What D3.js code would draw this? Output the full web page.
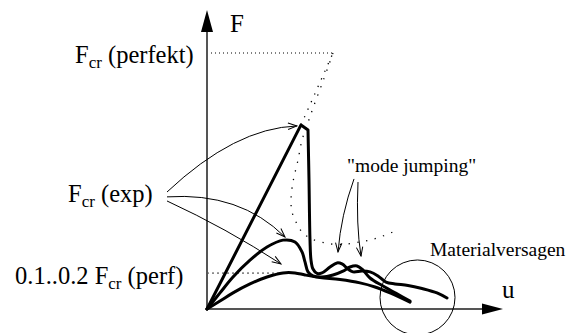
<!DOCTYPE html>
<html>
<head>
<meta charset="utf-8">
<script src="https://cdn.jsdelivr.net/npm/d3@7"></script>
<style>
  html, body { margin: 0; padding: 0; background: #fff; }
  svg { display: block; }
  text { font-family: "Liberation Serif", "Times New Roman", Times, serif; fill: #000; }
</style>
</head>
<body>
<svg id="chart" width="571" height="333"></svg>
<script>
// Load F (in % of the perfect-plate critical load) against end shortening u.

// Stiff specimen: linear up to the experimental buckling load, sudden drop, mode jumps.
const stiffPath = [
  [0, 0], [37.6, 71.9], [40.4, 69.9], [40.8, 50.4], [41.2, 27.0], [41.6, 19.1],
  [42.4, 15.6], [44.0, 13.9], [46.0, 14.1], [49.2, 16.4], [52.0, 18.0], [54.0, 17.6],
  [56.4, 15.6], [58.4, 14.5], [62.0, 14.8], [65.2, 14.5], [68.4, 12.9], [71.6, 10.5],
  [75.2, 9.8], [80.4, 9.2], [86.0, 8.0], [92.0, 6.3], [96.0, 4.3]
];

// Specimen with a rounded maximum, then a drop and a second mode jump.
const midPath = [
  [0, 0], [5.2, 6.3], [10.4, 12.5], [17.2, 19.1], [24.0, 24.2], [30.4, 26.9],
  [35.2, 26.2], [38.0, 22.3], [39.2, 18.4], [40.4, 14.5], [42.4, 12.9], [46.0, 12.5],
  [50.4, 13.3], [54.4, 14.8], [57.2, 16.4], [60.0, 16.8], [62.4, 15.2], [65.2, 12.1],
  [70.4, 9.0], [76.0, 5.9], [81.2, 3.1]
];

// Soft specimen: flat maximum at 0.1..0.2 of the perfect critical load.
const lowPath = [
  [0, 0], [5.2, 3.1], [10.4, 6.3], [17.2, 9.8], [24.0, 12.5], [30.4, 14.1],
  [35.2, 14.1], [39.2, 13.3], [45.2, 12.3], [53.2, 11.5], [61.2, 10.2],
  [67.2, 8.6], [73.2, 6.3], [81.2, 2.7]
];

// Perfect plate: elastic branch continued up to F_cr, then the post-buckling path.
const perfectElastic = [[37.6, 71.9], [50.4, 100]];
const perfectPost = [
  [50.4, 100], [46.4, 89.0], [42.4, 78.5], [39.6, 70.5], [38.0, 66.0], [36.4, 58.2],
  [34.4, 49.6], [33.6, 42.6], [34.0, 37.9], [35.6, 34.0], [38.0, 30.1], [41.2, 27.7],
  [47.2, 25.8], [53.2, 25.2], [61.2, 26.2], [68.0, 27.7], [74.4, 30.1]
];

// Reference load levels
const levelPerfect = 100;
const levelPostBuckling = 14;

// Annotation arrows: start, control, end (u, F)
const expArrows = [
  [[-16, 45.7], [11.2, 70.7], [36.0, 71.5]],
  [[-16, 43.8], [13.2, 45.7], [31.2, 28.1]],
  [[-16, 42.2], [7.6, 31.6], [29.6, 17.6]]
];
const jumpArrows = [
  [[58.8, 50.8], [53.6, 36.7], [52.4, 22.3]],
  [[60.4, 49.6], [59.6, 32.8], [61.6, 20.7]]
];

// Material failure region
const failureZone = { u: 84.2, F: 4.5, r: 15 };

// Texts
const axisLabels = { F: "F", u: "u" };
const levelTexts = [
  { pre: "", sub: "cr", post: " (perfekt)" },
  { pre: "", sub: "cr", post: " (exp)" },
  { pre: "0.1..0.2 ", sub: "cr", post: " (perf)" }
];
const noteJump = "\"mode jumping\"";
const noteFailure = "Materialversagen";

const uAxisEnd = 118.4;
const fAxisEnd = 116.8;

const svg = d3.select("#chart");
const x = d3.scaleLinear().domain([0, 100]).range([207, 457]);
const y = d3.scaleLinear().domain([0, 100]).range([309, 53]);

const line = d3.line().x(d => x(d[0])).y(d => y(d[1]));
const smooth = d3.line().x(d => x(d[0])).y(d => y(d[1])).curve(d3.curveCatmullRom.alpha(0.5));

// arrowhead
svg.append("defs").append("marker")
  .attr("id", "head")
  .attr("viewBox", "-1 -5 11 10")
  .attr("refX", 9).attr("refY", 0)
  .attr("markerWidth", 11).attr("markerHeight", 10)
  .attr("markerUnits", "userSpaceOnUse")
  .attr("orient", "auto")
  .append("path")
  .attr("d", "M0,-3.2L9,0L0,3.2")
  .attr("fill", "none").attr("stroke", "#000").attr("stroke-width", 1);

// reference levels
svg.append("line")
  .attr("x1", x(0)).attr("x2", x(perfectElastic[1][0]))
  .attr("y1", y(levelPerfect)).attr("y2", y(levelPerfect))
  .attr("stroke", "#000").attr("stroke-width", 1).attr("stroke-dasharray", "1 3");
svg.append("line")
  .attr("x1", x(0)).attr("x2", x(33.6))
  .attr("y1", y(levelPostBuckling)).attr("y2", y(levelPostBuckling))
  .attr("stroke", "#8a8a8a").attr("stroke-width", 1.6).attr("stroke-dasharray", "2 3");

// perfect plate (dotted)
svg.append("path").attr("d", line(perfectElastic))
  .attr("fill", "none").attr("stroke", "#000").attr("stroke-width", 1.3)
  .attr("stroke-dasharray", "1.3 7");
svg.append("path").attr("d", smooth(perfectPost))
  .attr("fill", "none").attr("stroke", "#000").attr("stroke-width", 1.3)
  .attr("stroke-dasharray", "1.3 7.5");

// axes
svg.append("line")
  .attr("x1", x(0)).attr("x2", x(uAxisEnd) - 20)
  .attr("y1", y(0)).attr("y2", y(0))
  .attr("stroke", "#555").attr("stroke-width", 2);
svg.append("line")
  .attr("x1", x(0)).attr("x2", x(0))
  .attr("y1", y(0)).attr("y2", y(fAxisEnd) + 22)
  .attr("stroke", "#555").attr("stroke-width", 2);
const xt = [x(uAxisEnd), y(0)];
svg.append("path")
  .attr("d", `M${xt[0]},${xt[1]}L${xt[0] - 21},${xt[1] - 5.5}L${xt[0] - 21},${xt[1] + 5.5}Z`)
  .attr("fill", "#000");
const yt = [x(0), y(fAxisEnd)];
svg.append("path")
  .attr("d", `M${yt[0]},${yt[1]}L${yt[0] - 6},${yt[1] + 22}L${yt[0] + 6},${yt[1] + 22}Z`)
  .attr("fill", "#000");

// load-deflection curves
const curveStyle = sel => sel.attr("fill", "none").attr("stroke", "#000")
  .attr("stroke-width", 3).attr("stroke-linejoin", "round").attr("stroke-linecap", "round");
svg.append("path").attr("d", line(stiffPath.slice(0, 3)) + smooth(stiffPath.slice(2)).replace(/^M[^C]*/, "")).call(curveStyle);
svg.append("path").attr("d", smooth(midPath)).call(curveStyle);
svg.append("path").attr("d", smooth(lowPath)).call(curveStyle);

// annotation arrows
const bez = a => `M${x(a[0][0])},${y(a[0][1])}Q${x(a[1][0])},${y(a[1][1])} ${x(a[2][0])},${y(a[2][1])}`;
svg.selectAll("path.arrow")
  .data(expArrows.concat(jumpArrows))
  .join("path")
  .attr("class", "arrow")
  .attr("d", bez)
  .attr("fill", "none").attr("stroke", "#000").attr("stroke-width", 1)
  .attr("marker-end", "url(#head)");

// failure zone
svg.append("circle")
  .attr("cx", x(failureZone.u)).attr("cy", y(failureZone.F))
  .attr("r", x(failureZone.u + failureZone.r) - x(failureZone.u))
  .attr("fill", "none").attr("stroke", "#000").attr("stroke-width", 1);

// texts
svg.append("text").attr("x", x(0) + 23).attr("y", y(fAxisEnd) + 22)
  .attr("font-size", 25).text(axisLabels.F);
svg.append("text").attr("x", x(uAxisEnd) - 1).attr("y", y(0) - 11)
  .attr("font-size", 25).text(axisLabels.u);

function fcrLabel(t, px, py) {
  const el = svg.append("text").attr("x", px).attr("y", py).attr("font-size", 24.5);
  el.append("tspan").text(t.pre + "F");
  el.append("tspan").attr("font-size", 17).attr("dy", 5).text(t.sub);
  el.append("tspan").attr("dy", -5).text(t.post);
}
fcrLabel(levelTexts[0], 75, y(levelPerfect) + 10);
fcrLabel(levelTexts[1], 68, 202);
fcrLabel(levelTexts[2], 15, y(levelPostBuckling) + 11);

svg.append("text").attr("x", 347).attr("y", 172).attr("font-size", 19.5).text(noteJump);
svg.append("text").attr("x", 430).attr("y", 256).attr("font-size", 19.5).text(noteFailure);
</script>
</body>
</html>
